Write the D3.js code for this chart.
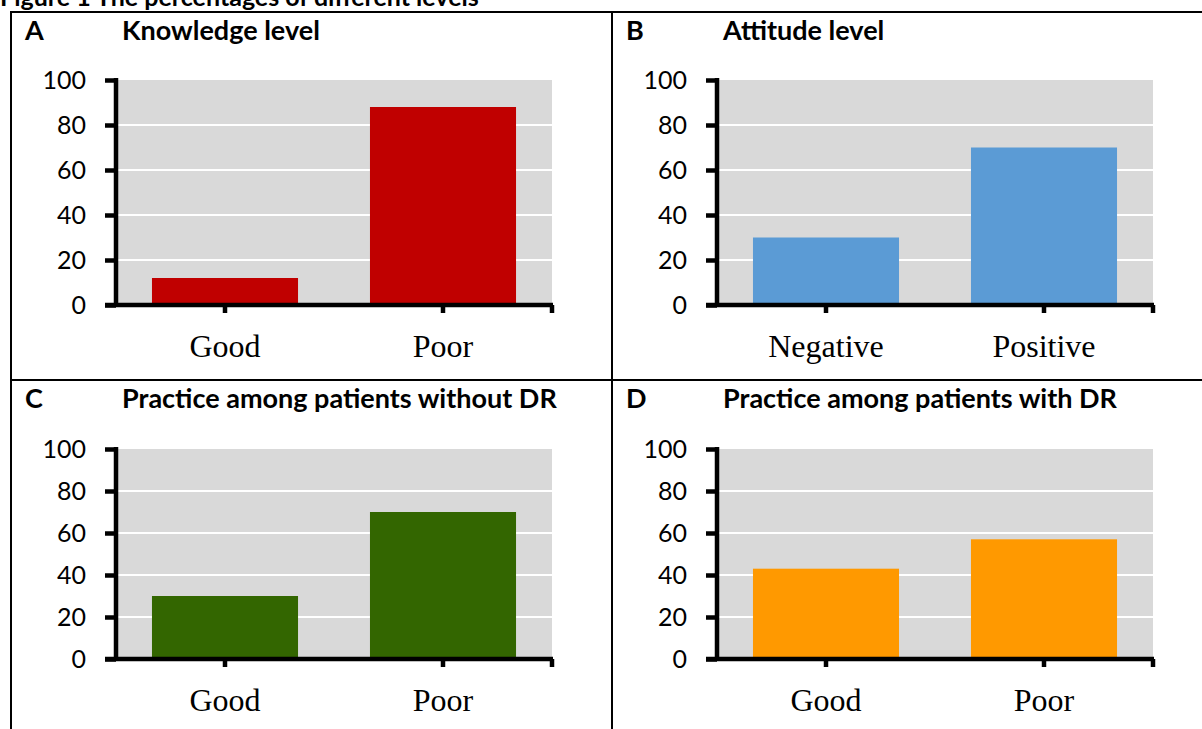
<!DOCTYPE html>
<html>
<head>
<meta charset="utf-8">
<script src="https://cdn.jsdelivr.net/npm/d3@7"></script>
<style>
  html, body { margin: 0; padding: 0; background: #fff; overflow: hidden; }
</style>
</head>
<body>
<div id="figure"></div>
<script>
// chart values
const figureTitle = 'Figure 1 The percentages of different levels';
const panelLetters = ['A', 'B', 'C', 'D'];
const panelTitles = [
  'Knowledge level',
  'Attitude level',
  'Practice among patients without DR',
  'Practice among patients with DR'
];
const knowledgeCategories = ['Good', 'Poor'];
const knowledgeValues = [12, 88];
const attitudeCategories = ['Negative', 'Positive'];
const attitudeValues = [30, 70];
const practiceNoDrCategories = ['Good', 'Poor'];
const practiceNoDrValues = [30, 70];
const practiceDrCategories = ['Good', 'Poor'];
const practiceDrValues = [43, 57];
const yTickValues = [0, 20, 40, 60, 80, 100];

// look of the page
const barColors = ['#c00000', '#5b9bd5', '#336600', '#ff9900'];
const width = 1202;
const height = 729;
const cellLeft = [11, 612];
const cellTop = [12, 380];
const axisWidth = 4.5;

// plot box inside each table cell (offsets from the cell's top-left)
const plot = {
  left: 105,
  width: 436,
  top: [68, 69],
  height: [225, 210]
};

let svg = d3.select('#figure')
  .append('svg')
  .attr('width', width)
  .attr('height', height)
  ;

// heading, cut off at the top as in the scan
svg.append('text')
  .attr('x', 0)
  .attr('y', 6)
  .attr('font-family', 'Lato, sans-serif')
  .attr('font-weight', 'bold')
  .attr('font-size', 25)
  .text(figureTitle)
  ;

// table rules
let rules = svg.append('g')
  .attr('stroke', '#000')
  .attr('stroke-width', 2)
  ;
rules.append('line').attr('x1', cellLeft[0]).attr('x2', width).attr('y1', cellTop[0]).attr('y2', cellTop[0]);
rules.append('line').attr('x1', cellLeft[0]).attr('x2', width).attr('y1', cellTop[1]).attr('y2', cellTop[1]);
rules.append('line').attr('x1', cellLeft[0]).attr('x2', cellLeft[0]).attr('y1', cellTop[0] - 1).attr('y2', height);
rules.append('line').attr('x1', cellLeft[1]).attr('x2', cellLeft[1]).attr('y1', cellTop[0] - 1).attr('y2', height);

const panels = [
  { cats: knowledgeCategories, vals: knowledgeValues },
  { cats: attitudeCategories, vals: attitudeValues },
  { cats: practiceNoDrCategories, vals: practiceNoDrValues },
  { cats: practiceDrCategories, vals: practiceDrValues }
];

panels.forEach((p, i) => {
  let col = i % 2;
  let row = Math.floor(i / 2);
  let ox = cellLeft[col];
  let oy = cellTop[row];

  let cell = svg.append('g')
    .attr('transform', `translate(${ox}, ${oy})`)
    ;

  // panel letter and title
  cell.append('text')
    .attr('x', 14)
    .attr('y', 28)
    .attr('font-family', 'Lato, sans-serif')
    .attr('font-weight', 'bold')
    .attr('font-size', 27)
    .text(panelLetters[i])
    ;
  cell.append('text')
    .attr('x', 111)
    .attr('y', 28)
    .attr('font-family', 'Lato, sans-serif')
    .attr('font-weight', 'bold')
    .attr('font-size', 27)
    .text(panelTitles[i])
    ;

  let top = plot.top[row];
  let h = plot.height[row];

  let x = d3.scaleBand()
    .domain(p.cats)
    .range([plot.left, plot.left + plot.width])
    .paddingInner(0.33)
    .paddingOuter(0.165)
    ;
  let y = d3.scaleLinear()
    .domain([0, 100])
    .range([top + h, top])
    ;

  // grey plot area and white gridlines
  cell.append('rect')
    .attr('x', plot.left)
    .attr('y', y(100))
    .attr('width', plot.width)
    .attr('height', y(0) - y(100))
    .attr('fill', '#d9d9d9')
    ;
  cell.append('g')
    .selectAll('line')
    .data(yTickValues.filter(t => t > 0 && t < 100))
    .enter()
    .append('line')
    .attr('x1', plot.left)
    .attr('x2', plot.left + plot.width)
    .attr('y1', (d) => { return y(d); })
    .attr('y2', (d) => { return y(d); })
    .attr('stroke', '#fff')
    .attr('stroke-width', 2)
    ;

  // bars
  cell.append('g')
    .selectAll('rect')
    .data(p.vals)
    .enter()
    .append('rect')
    .attr('x', (d, j) => { return x(p.cats[j]); })
    .attr('y', (d) => { return y(d); })
    .attr('width', x.bandwidth())
    .attr('height', (d) => { return y(0) - y(d); })
    .attr('fill', barColors[i])
    ;

  // y axis
  let yaxis = cell.append('g')
    .attr('transform', `translate(${plot.left}, 0)`)
    .call(d3.axisLeft(y).tickValues(yTickValues).tickSize(11).tickSizeOuter(0).tickPadding(19))
    ;
  yaxis.select('.domain')
    .attr('d', `M0,${y(100) - 2}V${y(0)}`)
    .attr('stroke-width', axisWidth)
    ;
  yaxis.selectAll('.tick line').attr('stroke-width', axisWidth);
  yaxis.selectAll('text')
    .attr('font-family', 'Lato, sans-serif')
    .attr('font-size', 25)
    .attr('fill', '#000')
    ;

  // x axis
  let xaxis = cell.append('g')
    .attr('transform', `translate(0, ${y(0)})`)
    .call(d3.axisBottom(x).tickSize(8).tickSizeOuter(0).tickPadding(21))
    ;
  xaxis.select('.domain')
    .attr('d', `M${plot.left - 11},0H${plot.left + plot.width + 1}`)
    .attr('stroke-width', axisWidth)
    ;
  xaxis.selectAll('.tick line').attr('stroke-width', axisWidth);
  xaxis.append('line')
    .attr('x1', plot.left + plot.width)
    .attr('x2', plot.left + plot.width)
    .attr('y1', 0)
    .attr('y2', 8)
    .attr('stroke', '#000')
    .attr('stroke-width', axisWidth)
    ;
  xaxis.selectAll('text')
    .attr('font-family', '"Liberation Serif", serif')
    .attr('font-size', 32)
    .attr('fill', '#000')
    ;
});
</script>
</body>
</html>
